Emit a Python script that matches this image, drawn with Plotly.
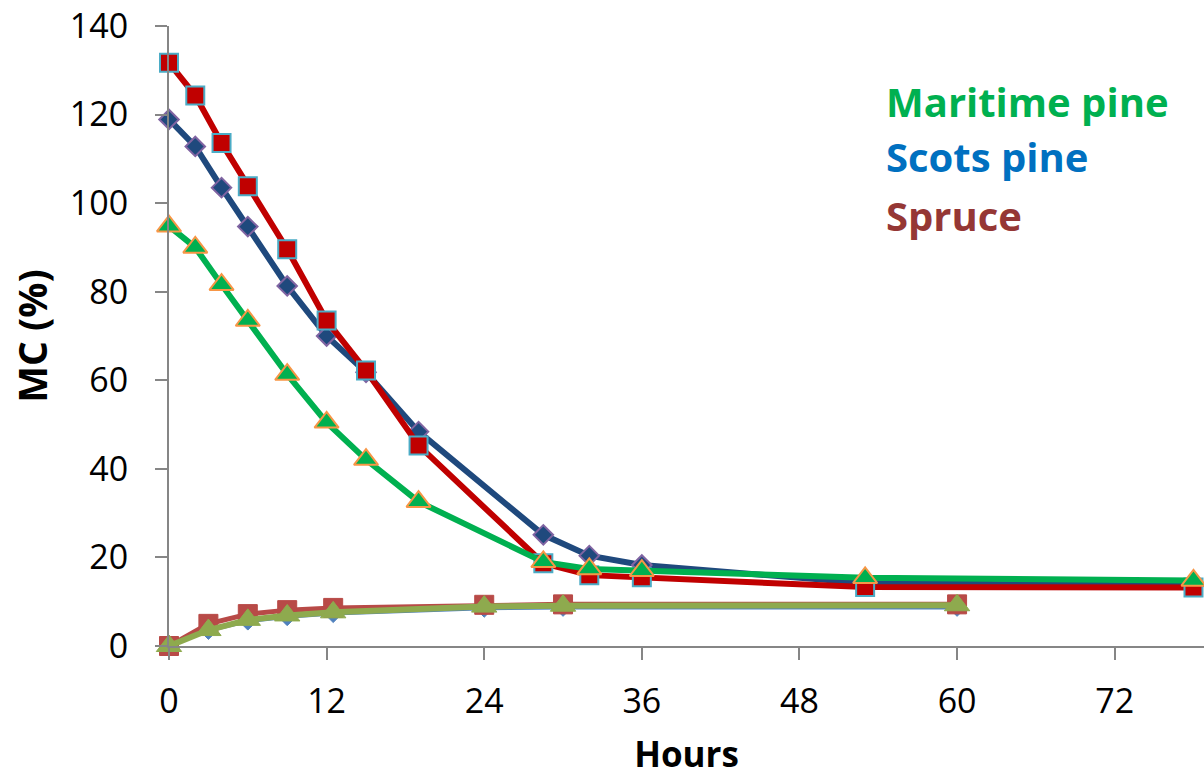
import plotly.graph_objects as go

# ---- data ----
hours_drying = [0, 2, 4, 6, 9, 12, 15, 19, 28.5, 32, 36, 53, 78]
scots_drying = [118.9, 112.8, 103.5, 94.7, 81.3, 70.0, 61.8, 48.4, 25.1, 20.4, 18.3, 14.2, 13.6]
spruce_drying = [131.7, 124.3, 113.6, 103.8, 89.6, 73.5, 62.2, 45.3, 18.7, 16.0, 15.5, 13.3, 13.2]
maritime_drying = [94.8, 90.0, 81.6, 73.5, 61.3, 50.5, 42.1, 32.6, 19.0, 17.4, 17.0, 15.4, 14.8]

hours_sorption = [0, 3, 6, 9, 12.5, 24, 30, 60]
scots_sorption = [0, 3.4, 5.5, 6.5, 7.2, 8.4, 8.6, 8.6]
spruce_sorption = [0, 5.0, 7.2, 8.1, 8.6, 9.3, 9.4, 9.4]
maritime_sorption = [0, 3.6, 5.9, 6.9, 7.6, 8.9, 9.1, 9.2]

x_ticks = [0, 12, 24, 36, 48, 60, 72]
y_ticks = [0, 20, 40, 60, 80, 100, 120, 140]

species_labels = ["Maritime pine", "Scots pine", "Spruce"]
species_colors = ["#00B050", "#0070C0", "#953735"]

FONT = "Open Sans"

fig = go.Figure()

# sorption curves (bottom)
fig.add_trace(go.Scatter(
    x=hours_sorption, y=scots_sorption, mode="lines+markers", name="Scots pine sorption",
    line=dict(color="#4F81BD", width=3),
    marker=dict(symbol="diamond", size=13, color="#4F81BD", line=dict(color="#4F81BD", width=1)),
    cliponaxis=False))
fig.add_trace(go.Scatter(
    x=hours_sorption, y=spruce_sorption, mode="lines+markers", name="Spruce sorption",
    line=dict(color="#B84A47", width=5),
    marker=dict(symbol="square", size=19, color="#B84A47", line=dict(color="#B84A47", width=1)),
    cliponaxis=False))
fig.add_trace(go.Scatter(
    x=hours_sorption, y=maritime_sorption, mode="lines+markers", name="Maritime pine sorption",
    line=dict(color="#8EAA4E", width=6),
    marker=dict(symbol="triangle-up", size=22, color="#8EAA4E", line=dict(color="#8EAA4E", width=1)),
    cliponaxis=False))

# drying curves
fig.add_trace(go.Scatter(
    x=hours_drying, y=scots_drying, mode="lines+markers", name="Scots pine",
    line=dict(color="#1F497D", width=6),
    marker=dict(symbol="diamond", size=15, color="#1F497D", line=dict(color="#8064A2", width=2)),
    cliponaxis=False))
fig.add_trace(go.Scatter(
    x=hours_drying, y=spruce_drying, mode="lines+markers", name="Spruce",
    line=dict(color="#C00000", width=6),
    marker=dict(symbol="square", size=18, color="#C00000", line=dict(color="#4BACC6", width=2)),
    cliponaxis=False))
fig.add_trace(go.Scatter(
    x=hours_drying, y=maritime_drying, mode="lines+markers", name="Maritime pine",
    line=dict(color="#00B050", width=6),
    marker=dict(symbol="triangle-up", size=21, color="#00B050", line=dict(color="#F79646", width=2)),
    cliponaxis=False))

axis_common = dict(
    showline=True, linecolor="#868686", linewidth=2,
    ticks="outside", ticklen=12, tickwidth=2, tickcolor="#868686",
    showgrid=False, zeroline=False,
    tickfont=dict(family=FONT, size=34, color="black"),
)

fig.update_xaxes(range=[0, 78.8], tickvals=x_ticks, ticktext=[str(v) for v in x_ticks],
                 title=dict(text="<b>Hours</b>", font=dict(family=FONT, size=35, color="black"), standoff=26),
                 ticklabelstandoff=12, **axis_common)
fig.update_yaxes(range=[0, 140], tickvals=y_ticks, ticktext=[str(v) for v in y_ticks],
                 title=dict(text="<b>MC (%)</b>", font=dict(family=FONT, size=39, color="black"), standoff=10),
                 ticklabelstandoff=20, **axis_common)

legend_y = [0.879, 0.789, 0.695]
for lbl, col, yy in zip(species_labels, species_colors, legend_y):
    fig.add_annotation(x=0.691, y=yy, xref="paper", yref="paper", text=f"<b>{lbl}</b>",
                       showarrow=False, xanchor="left", yanchor="middle",
                       font=dict(family=FONT, size=40, color=col))

fig.update_layout(
    width=1204, height=777,
    margin=dict(l=169, r=0, t=26, b=131),
    paper_bgcolor="white", plot_bgcolor="white",
    showlegend=False,
)

fig.write_html("out.html")
